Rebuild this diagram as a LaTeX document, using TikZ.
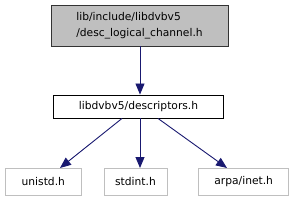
\documentclass[tikz,border=0pt]{standalone}
\usepackage{fontspec}
\setmainfont{DejaVu Sans}
\usetikzlibrary{arrows.meta}
\definecolor{edgeblue}{HTML}{191970}
\definecolor{grayfill}{HTML}{BFBFBF}
\definecolor{lightborder}{HTML}{BFBFBF}
\begin{document}
\begin{tikzpicture}[x=1pt,y=1pt,
  box/.style={draw, rectangle, inner sep=0pt, line width=0.9pt, font=\fontsize{10.7}{16}\selectfont},
  mainbox/.style={box, fill=grayfill, draw=black!80, align=left},
  filebox/.style={box, draw=black},
  sysbox/.style={box, draw=lightborder, text=black},
  dep/.style={draw=edgeblue, line width=0.9pt, -{Triangle[length=11pt,width=9pt,fill=edgeblue]}}
]
\useasboundingbox (0,0) rectangle (297,201);
\node[mainbox, minimum width=177pt, minimum height=41pt] (top) at (139.5,175.5) {lib/include/libdvbv5\\/desc\_logical\_channel.h};
\node[filebox, minimum width=170pt, minimum height=23pt] (desc) at (138.5,94.5) {libdvbv5/descriptors.h};
\node[sysbox, minimum width=76.5pt, minimum height=26.5pt] (unistd) at (43.3,19.3) {unistd.h};
\node[sysbox, minimum width=63pt, minimum height=26.5pt] (stdint) at (135.5,19.3) {stdint.h};
\node[sysbox, minimum width=90pt, minimum height=26.5pt] (arpa) at (243.7,19.3) {arpa/inet.h};
\draw[dep] (top.south -| 140,0) -- (desc.north -| 140,0);
\draw[dep] (desc.south -| 122,0) -- (unistd.north -| 60,0);
\draw[dep] (desc.south -| 140,0) -- (stdint.north -| 140,0);
\draw[dep] (desc.south -| 158,0) -- (arpa.north -| 227,0);
\end{tikzpicture}
\end{document}
